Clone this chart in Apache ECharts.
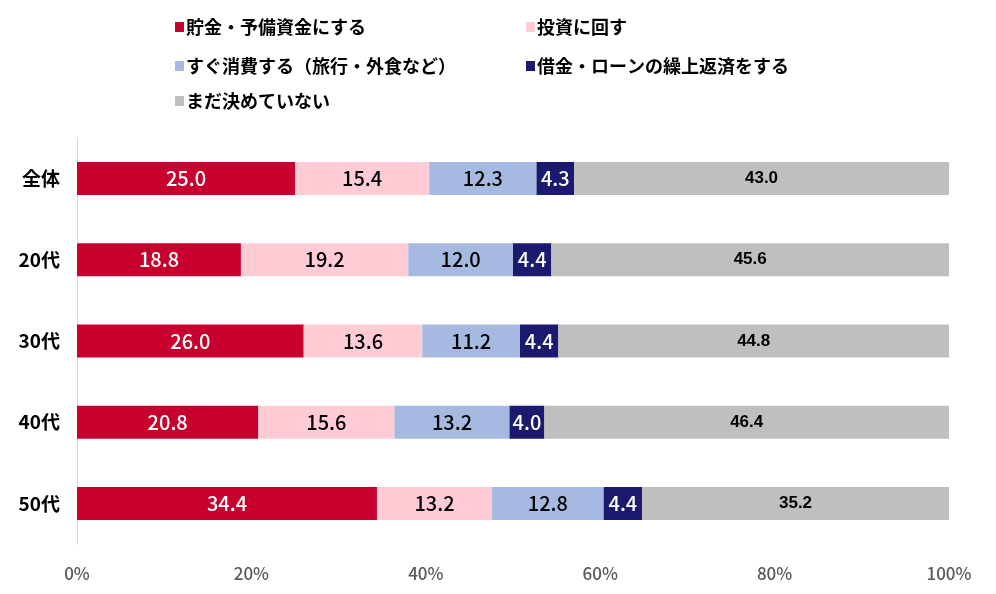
<!DOCTYPE html>
<html><head><meta charset="utf-8">
<script src="https://cdn.jsdelivr.net/npm/echarts@6/dist/echarts.min.js"></script>
<style>html,body{margin:0;padding:0;background:#fff}#c{width:996px;height:594px}</style>
</head><body><div id="c"></div>
<script>
const categories = ['全体','20代','30代','40代','50代'];
const seriesNames = ['貯金・予備資金にする','投資に回す','すぐ消費する（旅行・外食など）','借金・ローンの繰上返済をする','まだ決めていない'];
const savings = [25.0, 18.8, 26.0, 20.8, 34.4];
const invest = [15.4, 19.2, 13.6, 15.6, 13.2];
const consume = [12.3, 12.0, 11.2, 13.2, 12.8];
const repay = [4.3, 4.4, 4.4, 4.0, 4.4];
const undecided = [43.0, 45.6, 44.8, 46.4, 35.2];
const xTicks = [0, 20, 40, 60, 80, 100];

const colors = ['#C8002E','#FFCCD5','#A6B9E0','#1B1A6E','#BFBFBF'];
const labelColors = ['#fff','#000','#000','#fff','#000'];
const values = [savings, invest, consume, repay, undecided];
const numFont = '"Noto Sans CJK JP","Noto Sans",sans-serif';

const chart = echarts.init(document.getElementById('c'));
const legendPos = [[170,13],[521,13],[170,52],[521,52],[170,87]];
chart.setOption({
  animation:false,
  color: colors,
  legend: seriesNames.map((n,i)=>({
    data:[n], left:legendPos[i][0], top:legendPos[i][1],
    itemWidth:9, itemHeight:10, itemGap:4, icon:'rect',
    textStyle:{fontFamily:'"Noto Sans CJK JP",sans-serif', fontSize:18, fontWeight:'bold', color:'#000', padding:[0,0,0,-3]}
  })),
  grid:{left:77, right:47, top:138, bottom:50, containLabel:false},
  xAxis:{type:'value', min:0, max:100, interval:20,
    splitLine:{show:false}, axisLine:{show:false}, axisTick:{show:false},
    axisLabel:{formatter:v=>v+'%', color:'#595959', fontSize:17, margin:21, fontFamily:numFont, fontWeight:500}},
  yAxis:{type:'category', data:categories, inverse:true,
    axisLine:{show:true, lineStyle:{color:'#D9D9D9', width:1}}, axisTick:{show:false},
    axisLabel:{color:'#000', fontSize:19, fontWeight:'bold', margin:17, fontFamily:'"Noto Sans CJK JP",sans-serif'}},
  series: seriesNames.map((n,i)=>({
    name:n, type:'bar', stack:'a', barWidth:33, data:values[i],
    label:{show:true, position:'inside', color:labelColors[i],
      fontSize: i===4?17:20, fontFamily: i===4?'"Liberation Sans","Noto Sans",sans-serif':numFont,
      fontWeight: i===4?'bold':500,
      formatter:p=>p.value.toFixed(1)}
  }))
});
</script></body></html>
